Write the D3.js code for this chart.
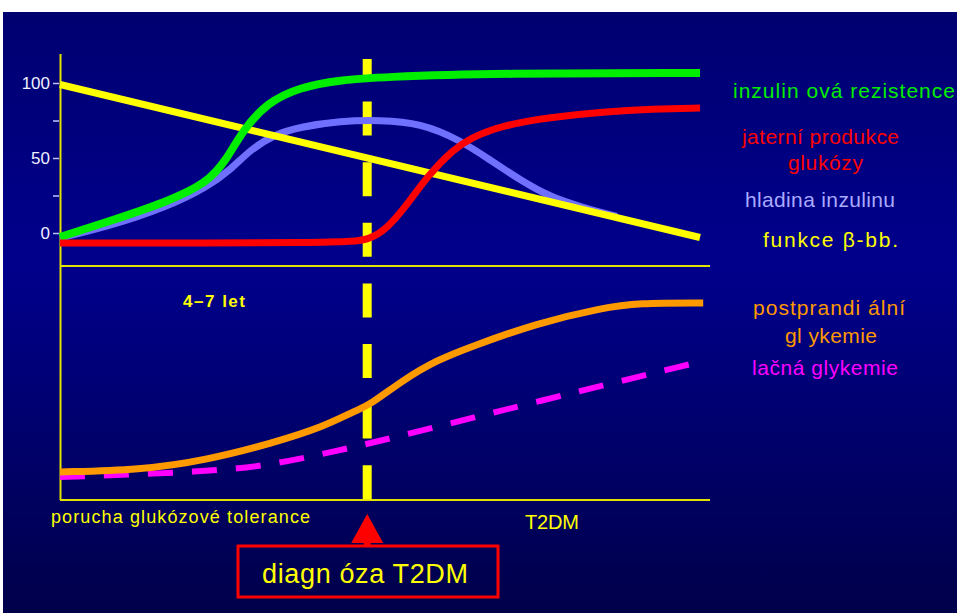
<!DOCTYPE html>
<html>
<head>
<meta charset="utf-8">
<script src="https://cdn.jsdelivr.net/npm/d3@7"></script>
<style>
  body { margin: 0; background: #fff; }
  text { font-family: "Liberation Sans", Arial, sans-serif; }
</style>
</head>
<body>
<script>
// time runs 0..10 along the x axis, diagnosis at 4.8
const diagnosisT = 4.8;

// upper panel (0..100 scale)
const betaT   = [0, 10];
const betaV   = [99, -3];
const resistT = [0, 0.73, 1.67, 2.3, 2.6, 2.86, 3.23, 3.75, 4.38, 5, 6.88, 10];
const resistV = [-2.7, 7.3, 20.7, 33.3, 48.7, 68.7, 86.7, 97.3, 102, 104, 106.5, 106.7];
const insulinT = [0, 0.73, 1.67, 2.3, 2.66, 2.97, 3.33, 3.75, 4.38, 5, 5.63, 6.25, 6.72, 7.19, 7.66, 8.13, 8.7];
const insulinV = [-3.3, 4, 17.3, 30.7, 42, 55.3, 65.3, 70.7, 74.7, 75.3, 73.3, 62, 48.7, 35.3, 24, 17.5, 11];
const liverT = [0, 4.38, 4.84, 5.11, 5.36, 5.78, 6.14, 6.41, 6.92, 7.7, 8.48, 9.27, 10];
const liverV = [-6.7, -6.7, -4.7, 3.3, 15.3, 40, 55.3, 63.3, 72, 77.3, 80.7, 82.7, 83.3];

// lower panel (relative glycaemia)
const postT = [0, 1.25, 2.3, 3.33, 4.11, 4.64, 4.84, 5.36, 5.89, 6.41, 7.45, 8.48, 9.02, 10.05];
const postV = [12, 12.8, 17.1, 24.4, 31.2, 38.5, 40.6, 51.3, 59.8, 65.4, 75.6, 82.1, 84.2, 84.2];
const fastT = [0, 2.3, 3.33, 4.38, 4.95, 7.5, 10.05];
const fastV = [9.8, 12, 15, 21.4, 24.8, 42.4, 59.4];

const yTicks = [0, 25, 50, 75, 100];
const yTickLabels = ["0", "", "50", "", "100"];

const W = 957, H = 613;
const svg = d3.select("body").append("svg").attr("width", W).attr("height", H);

// background
const defs = svg.append("defs");
const grad = defs.append("linearGradient").attr("id", "bg")
  .attr("x1", 0).attr("y1", 0).attr("x2", 0).attr("y2", 1);
grad.append("stop").attr("offset", "0%").attr("stop-color", "#000070");
grad.append("stop").attr("offset", "42%").attr("stop-color", "#00008c");
grad.append("stop").attr("offset", "100%").attr("stop-color", "#00004a");
svg.append("rect").attr("width", W).attr("height", H).attr("fill", "#fff");
svg.append("rect").attr("x", 3).attr("y", 12).attr("width", W - 3).attr("height", H - 12)
  .attr("fill", "url(#bg)");

const x = d3.scaleLinear().domain([0, 10]).range([60, 700]);
const yTop = d3.scaleLinear().domain([0, 100]).range([233, 83]);
const yBot = d3.scaleLinear().domain([0, 100]).range([500, 266]);

// frame lines
const frame = "#e2e200";
svg.append("line").attr("x1", 60.5).attr("x2", 60.5).attr("y1", 54).attr("y2", 500)
  .attr("stroke", frame).attr("stroke-width", 2);
svg.append("line").attr("x1", 60).attr("x2", 710).attr("y1", 266).attr("y2", 266)
  .attr("stroke", frame).attr("stroke-width", 2);
svg.append("line").attr("x1", 60).attr("x2", 710).attr("y1", 500).attr("y2", 500)
  .attr("stroke", frame).attr("stroke-width", 2);

// y axis
const axis = svg.append("g").attr("transform", "translate(59,0)")
  .call(d3.axisLeft(yTop).tickValues(yTicks).tickSize(6).tickPadding(3)
    .tickFormat((d, i) => yTickLabels[i]));
axis.attr("font-size", 17).attr("font-family", "'Liberation Sans', Arial, sans-serif");
axis.select(".domain").remove();
axis.selectAll(".tick line").attr("stroke", "#c0c0ff").attr("stroke-width", 1.5);
axis.selectAll(".tick text").attr("fill", "#f0f0ff");

// diagnosis marker
svg.append("line").attr("x1", x(diagnosisT)).attr("x2", x(diagnosisT))
  .attr("y1", 59).attr("y2", 500)
  .attr("stroke", "#ffff00").attr("stroke-width", 9)
  .attr("stroke-dasharray", "34,26.6").attr("stroke-dashoffset", 18);

function series(ts, vs) { return ts.map((t, i) => [t, vs[i]]); }

const lineTop = d3.line().x(d => x(d[0])).y(d => yTop(d[1])).curve(d3.curveBasis);
const lineBot = d3.line().x(d => x(d[0])).y(d => yBot(d[1])).curve(d3.curveBasis);

svg.append("path").attr("d", lineTop(series(insulinT, insulinV)))
  .attr("fill", "none").attr("stroke", "#7070ff").attr("stroke-width", 7);
svg.append("path").attr("d", lineTop(series(betaT, betaV)))
  .attr("fill", "none").attr("stroke", "#ffff00").attr("stroke-width", 7);
svg.append("path").attr("d", lineTop(series(resistT, resistV)))
  .attr("fill", "none").attr("stroke", "#00ee00").attr("stroke-width", 8);
svg.append("path").attr("d", lineTop(series(liverT, liverV)))
  .attr("fill", "none").attr("stroke", "#ff0000").attr("stroke-width", 7);

svg.append("path").attr("d", lineBot(series(fastT, fastV)))
  .attr("fill", "none").attr("stroke", "#ff00ff").attr("stroke-width", 6)
  .attr("stroke-dasharray", "25,19");
svg.append("path").attr("d", lineBot(series(postT, postV)))
  .attr("fill", "none").attr("stroke", "#ff9900").attr("stroke-width", 7);

// labels
function label(txt, px, py, color, size, len, anchor, weight) {
  svg.append("text").attr("x", px).attr("y", py).attr("fill", color)
    .attr("font-size", size).attr("text-anchor", anchor || "start")
    .attr("font-weight", weight || "normal")
    .attr("textLength", len).attr("lengthAdjust", "spacing")
    .text(txt);
}
label("inzulin ová rezistence", 733, 98, "#00ee00", 21, 222);
label("jaterní produkce", 742, 144, "#ff0000", 21, 157);
label("glukózy", 788, 170, "#ff0000", 21, 75);
label("hladina inzulinu", 745, 207, "#aaaaff", 21, 150);
label("funkce  β-bb.", 763, 247, "#ffff00", 21, 135);
label("postprandi ální", 753, 315, "#ff9900", 21, 152);
label("gl ykemie", 785, 343, "#ff9900", 21, 92);
label("lačná glykemie", 752, 375, "#ff00ff", 21, 146);
label("4–7 let", 183, 307, "#ffff00", 17, 62, "start", "bold");
label("porucha glukózové tolerance", 51, 523, "#ffff00", 18, 259);
label("T2DM", 525, 529, "#ffff00", 20, 54);

// diagnosis box with arrow
const ax = x(diagnosisT);
svg.append("path")
  .attr("d", `M${ax},514 L${ax + 16},543 L${ax + 3.5},543 L${ax + 3.5},547 L${ax - 3.5},547 L${ax - 3.5},543 L${ax - 16},543 Z`)
  .attr("fill", "#ff0000");
svg.append("rect").attr("x", 238).attr("y", 546).attr("width", 260).attr("height", 51)
  .attr("fill", "none").attr("stroke", "#ff0000").attr("stroke-width", 3);
label("diagn óza T2DM", 262, 583, "#ffff00", 27, 206);
</script>
</body>
</html>
